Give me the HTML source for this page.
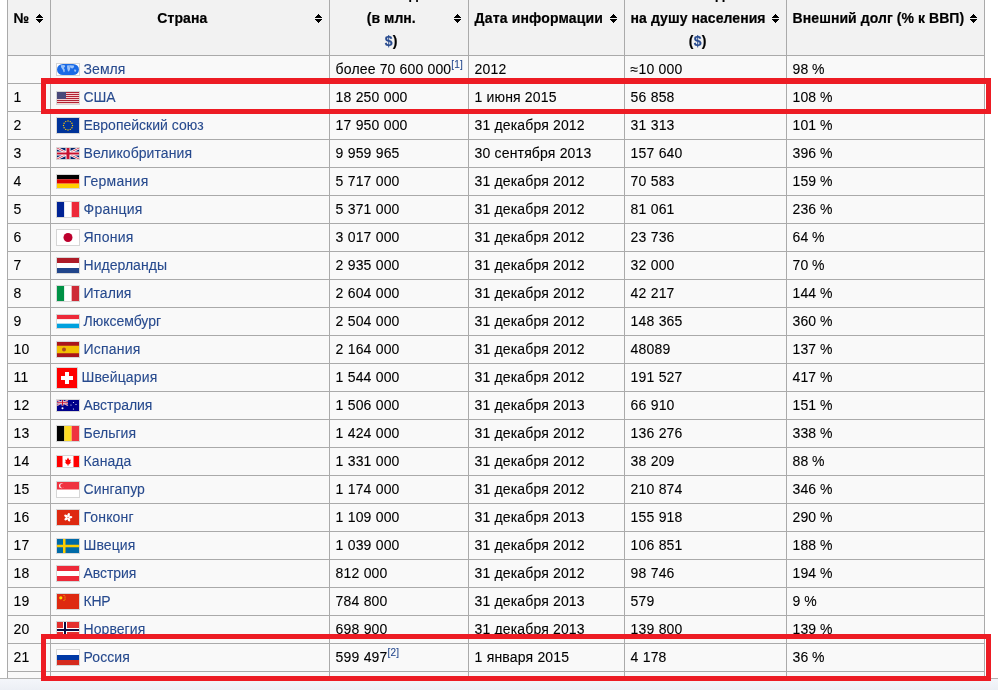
<!DOCTYPE html>
<html><head><meta charset="utf-8">
<style>
html,body{margin:0;padding:0;}
body{width:998px;height:690px;overflow:hidden;position:relative;background:#fff;font-family:"Liberation Sans",sans-serif;font-size:14px;color:#000;}
.wrap{position:absolute;left:0;top:0;width:998px;height:690px;will-change:transform;}
.a{position:absolute;}
.hd{position:absolute;left:7px;top:0;width:978px;height:55px;background:#f2f2f2;}
.bd{position:absolute;left:7px;top:56px;width:978px;height:622px;background:#f9f9f9;}
.vl{position:absolute;top:0;width:1px;height:678px;background:#aaa;}
.hl{position:absolute;left:7px;width:978px;height:1px;background:#aaa;}
.t{position:absolute;height:28px;line-height:28px;white-space:nowrap;-webkit-text-stroke:0.1px currentColor;}
.th{position:absolute;font-weight:bold;white-space:nowrap;line-height:22.4px;text-align:center;-webkit-text-stroke:0.2px currentColor;}
.lk{color:#274a8e;}
sup{font-size:10px;line-height:1;vertical-align:super;position:relative;top:-0.5px;}
.fl{position:absolute;border:1px solid #d6d6d6;}
.rb{position:absolute;border:5px solid #ed1c24;box-sizing:border-box;}
.sa{position:absolute;}
</style></head><body>

<div class="wrap">
<div class="hd"></div><div class="bd"></div>
<div class="vl" style="left:7px"></div>
<div class="vl" style="left:50px"></div>
<div class="vl" style="left:329px"></div>
<div class="vl" style="left:468px"></div>
<div class="vl" style="left:624px"></div>
<div class="vl" style="left:786px"></div>
<div class="vl" style="left:984px"></div>
<div class="hl" style="top:55px"></div>
<div class="hl" style="top:83px"></div>
<div class="hl" style="top:111px"></div>
<div class="hl" style="top:139px"></div>
<div class="hl" style="top:167px"></div>
<div class="hl" style="top:195px"></div>
<div class="hl" style="top:223px"></div>
<div class="hl" style="top:251px"></div>
<div class="hl" style="top:279px"></div>
<div class="hl" style="top:307px"></div>
<div class="hl" style="top:335px"></div>
<div class="hl" style="top:363px"></div>
<div class="hl" style="top:391px"></div>
<div class="hl" style="top:419px"></div>
<div class="hl" style="top:447px"></div>
<div class="hl" style="top:475px"></div>
<div class="hl" style="top:503px"></div>
<div class="hl" style="top:531px"></div>
<div class="hl" style="top:559px"></div>
<div class="hl" style="top:587px"></div>
<div class="hl" style="top:615px"></div>
<div class="hl" style="top:643px"></div>
<div class="hl" style="top:671px"></div>
<div class="a" style="left:0;top:678px;width:998px;height:1px;background:#b4b4b4"></div>
<div class="a" style="left:0;top:679px;width:998px;height:11px;background:linear-gradient(#f4f6fa,#eceff5)"></div>
<div class="th" style="left:13.6px;width:15.4px;top:6.5px;letter-spacing:0.394px;">№</div><div class="sa" style="left:35px;top:13px"><svg width="9" height="10" viewBox="0 0 9 10" style="display:block" shape-rendering="crispEdges"><path d="M4 1h1v1h-1zM3 2h3v1h-3zM2 3h5v1h-5zM1 4h7v1h-7zM1 6h7v1h-7zM2 7h5v1h-5zM3 8h3v1h-3zM4 9h1v1h-1z" fill="#000"/></svg></div>
<div class="th" style="left:56.6px;width:251.4px;top:6.5px;letter-spacing:0.076px;">Страна</div><div class="sa" style="left:314px;top:13px"><svg width="9" height="10" viewBox="0 0 9 10" style="display:block" shape-rendering="crispEdges"><path d="M4 1h1v1h-1zM3 2h3v1h-3zM2 3h5v1h-5zM1 4h7v1h-7zM1 6h7v1h-7zM2 7h5v1h-5zM3 8h3v1h-3zM4 9h1v1h-1z" fill="#000"/></svg></div>
<div class="th" style="left:335.6px;width:111.39999999999998px;top:-17.5px;letter-spacing:0.105px;">Внешний долг</div><div class="th" style="left:335.6px;width:111.39999999999998px;top:6.5px;letter-spacing:0.035px;">(в млн.</div><div class="th" style="left:335.6px;width:111.39999999999998px;top:29.5px;letter-spacing:0.276px;"><span class="lk">$</span>)</div><div class="sa" style="left:453px;top:13px"><svg width="9" height="10" viewBox="0 0 9 10" style="display:block" shape-rendering="crispEdges"><path d="M4 1h1v1h-1zM3 2h3v1h-3zM2 3h5v1h-5zM1 4h7v1h-7zM1 6h7v1h-7zM2 7h5v1h-5zM3 8h3v1h-3zM4 9h1v1h-1z" fill="#000"/></svg></div>
<div class="th" style="left:474.6px;width:128.39999999999998px;top:6.5px;letter-spacing:0.155px;">Дата информации</div><div class="sa" style="left:609px;top:13px"><svg width="9" height="10" viewBox="0 0 9 10" style="display:block" shape-rendering="crispEdges"><path d="M4 1h1v1h-1zM3 2h3v1h-3zM2 3h5v1h-5zM1 4h7v1h-7zM1 6h7v1h-7zM2 7h5v1h-5zM3 8h3v1h-3zM4 9h1v1h-1z" fill="#000"/></svg></div>
<div class="th" style="left:630.6px;width:134.39999999999998px;top:-17.5px;letter-spacing:0.105px;">Внешний долг</div><div class="th" style="left:630.6px;width:134.39999999999998px;top:6.5px;letter-spacing:0.066px;">на душу населения</div><div class="th" style="left:630.6px;width:134.39999999999998px;top:29.5px;letter-spacing:0.297px;">(<span class="lk">$</span>)</div><div class="sa" style="left:771px;top:13px"><svg width="9" height="10" viewBox="0 0 9 10" style="display:block" shape-rendering="crispEdges"><path d="M4 1h1v1h-1zM3 2h3v1h-3zM2 3h5v1h-5zM1 4h7v1h-7zM1 6h7v1h-7zM2 7h5v1h-5zM3 8h3v1h-3zM4 9h1v1h-1z" fill="#000"/></svg></div>
<div class="th" style="left:792.6px;width:170.39999999999998px;top:6.5px;letter-spacing:0.069px;">Внешний долг (% к ВВП)</div><div class="sa" style="left:969px;top:13px"><svg width="9" height="10" viewBox="0 0 9 10" style="display:block" shape-rendering="crispEdges"><path d="M4 1h1v1h-1zM3 2h3v1h-3zM2 3h5v1h-5zM1 4h7v1h-7zM1 6h7v1h-7zM2 7h5v1h-5zM3 8h3v1h-3zM4 9h1v1h-1z" fill="#000"/></svg></div>
<div class="fl" style="left:56px;top:63px;width:22px;height:11px"><svg width="22" height="11" viewBox="0 0 22 11" style="display:block"><rect width="22" height="11" fill="#fff"/><rect x="0" y="0" width="22" height="11" rx="6" ry="5.5" fill="#1a6ae6"/><path d="M3.8 1.2 L7.5 1 L8.2 2.5 L6.8 4 L7.8 5.5 L7.6 8 L6.6 8.2 L5.8 5.8 L4.2 3.5Z M10 1.5 L12.5 1.3 L12.8 3 L13.2 5 L12 7.6 L11 7.2 L10.2 4.5Z M12.6 1.2 L16.8 1.4 L17.2 3 L15.5 4.6 L13.5 4Z M17 5.6 L19.2 5.8 L19 7.8 L17.4 7.6Z" fill="#9cc3f7"/></svg></div>
<div class="t lk" style="left:83.5px;top:55px;letter-spacing:0.077px;">Земля</div>
<div class="t" style="left:335.6px;top:55px;letter-spacing:0.156px;">более 70 600 000<sup class="lk">[1]</sup></div>
<div class="t" style="left:474.6px;top:55px;letter-spacing:0.214px;">2012</div>
<div class="t" style="left:630.6px;top:55px;letter-spacing:0.214px;">≈10 000</div>
<div class="t" style="left:792.6px;top:55px;letter-spacing:0.022px;">98 %</div>
<div class="t" style="left:13.6px;top:83px;letter-spacing:0.214px;">1</div>
<div class="fl" style="left:56px;top:91px;width:22px;height:12px"><svg width="22" height="12" viewBox="0 0 22 12" style="display:block"><rect y="0" width="22" height="1" fill="#b22234"/><rect y="1" width="22" height="1" fill="#f5d0d0"/><rect y="2" width="22" height="1" fill="#b22234"/><rect y="3" width="22" height="1" fill="#f5d0d0"/><rect y="4" width="22" height="1" fill="#b22234"/><rect y="5" width="22" height="1" fill="#f5d0d0"/><rect y="6" width="22" height="1" fill="#b22234"/><rect y="7" width="22" height="1" fill="#f5d0d0"/><rect y="8" width="22" height="1" fill="#b22234"/><rect y="9" width="22" height="1" fill="#f5d0d0"/><rect y="10" width="22" height="1" fill="#b22234"/><rect y="11" width="22" height="1" fill="#f5d0d0"/><rect width="9" height="7" fill="#4a4a7a"/></svg></div>
<div class="t lk" style="left:83.5px;top:83px;letter-spacing:-0.093px;">США</div>
<div class="t" style="left:335.6px;top:83px;letter-spacing:0.193px;">18 250 000</div>
<div class="t" style="left:474.6px;top:83px;letter-spacing:0.151px;">1 июня 2015</div>
<div class="t" style="left:630.6px;top:83px;letter-spacing:0.197px;">56 858</div>
<div class="t" style="left:792.6px;top:83px;letter-spacing:0.061px;">108 %</div>
<div class="t" style="left:13.6px;top:111px;letter-spacing:0.214px;">2</div>
<div class="fl" style="left:56px;top:117px;width:22px;height:15px"><svg width="22" height="15" viewBox="0 0 22 15" style="display:block"><rect width="22" height="15" fill="#003399"/><circle cx="15.50" cy="7.50" r="0.7" fill="#ffcc00"/><circle cx="14.90" cy="9.75" r="0.7" fill="#ffcc00"/><circle cx="13.25" cy="11.40" r="0.7" fill="#ffcc00"/><circle cx="11.00" cy="12.00" r="0.7" fill="#ffcc00"/><circle cx="8.75" cy="11.40" r="0.7" fill="#ffcc00"/><circle cx="7.10" cy="9.75" r="0.7" fill="#ffcc00"/><circle cx="6.50" cy="7.50" r="0.7" fill="#ffcc00"/><circle cx="7.10" cy="5.25" r="0.7" fill="#ffcc00"/><circle cx="8.75" cy="3.60" r="0.7" fill="#ffcc00"/><circle cx="11.00" cy="3.00" r="0.7" fill="#ffcc00"/><circle cx="13.25" cy="3.60" r="0.7" fill="#ffcc00"/><circle cx="14.90" cy="5.25" r="0.7" fill="#ffcc00"/></svg></div>
<div class="t lk" style="left:83.5px;top:111px;letter-spacing:0.007px;">Европейский союз</div>
<div class="t" style="left:335.6px;top:111px;letter-spacing:0.193px;">17 950 000</div>
<div class="t" style="left:474.6px;top:111px;letter-spacing:0.150px;">31 декабря 2012</div>
<div class="t" style="left:630.6px;top:111px;letter-spacing:0.197px;">31 313</div>
<div class="t" style="left:792.6px;top:111px;letter-spacing:0.061px;">101 %</div>
<div class="t" style="left:13.6px;top:139px;letter-spacing:0.214px;">3</div>
<div class="fl" style="left:56px;top:147px;width:22px;height:11px"><svg width="22" height="11" viewBox="0 0 22 11" style="display:block"><rect width="22" height="11" fill="#012169"/><path d="M0 0L22 11M22 0L0 11" stroke="#fff" stroke-width="2.5"/><path d="M0 0L22 11M22 0L0 11" stroke="#c8102e" stroke-width="0.8"/><rect x="8.5" width="5" height="11" fill="#fff"/><rect y="3.5" width="22" height="4" fill="#fff"/><rect x="9.5" width="3" height="11" fill="#c8102e"/><rect y="4.5" width="22" height="2" fill="#c8102e"/></svg></div>
<div class="t lk" style="left:83.5px;top:139px;letter-spacing:0.073px;">Великобритания</div>
<div class="t" style="left:335.6px;top:139px;letter-spacing:0.191px;">9 959 965</div>
<div class="t" style="left:474.6px;top:139px;letter-spacing:0.163px;">30 сентября 2013</div>
<div class="t" style="left:630.6px;top:139px;letter-spacing:0.199px;">157 640</div>
<div class="t" style="left:792.6px;top:139px;letter-spacing:0.061px;">396 %</div>
<div class="t" style="left:13.6px;top:167px;letter-spacing:0.214px;">4</div>
<div class="fl" style="left:56px;top:174px;width:22px;height:13px"><svg width="22" height="13" viewBox="0 0 22 13" style="display:block"><rect width="22" height="4.33" fill="#000"/><rect y="4.33" width="22" height="4.34" fill="#dd0000"/><rect y="8.67" width="22" height="4.33" fill="#ffce00"/></svg></div>
<div class="t lk" style="left:83.5px;top:167px;letter-spacing:0.288px;">Германия</div>
<div class="t" style="left:335.6px;top:167px;letter-spacing:0.191px;">5 717 000</div>
<div class="t" style="left:474.6px;top:167px;letter-spacing:0.150px;">31 декабря 2012</div>
<div class="t" style="left:630.6px;top:167px;letter-spacing:0.197px;">70 583</div>
<div class="t" style="left:792.6px;top:167px;letter-spacing:0.061px;">159 %</div>
<div class="t" style="left:13.6px;top:195px;letter-spacing:0.214px;">5</div>
<div class="fl" style="left:56px;top:201px;width:22px;height:15px"><svg width="22" height="15" viewBox="0 0 22 15" style="display:block"><rect width="7.33" height="15" fill="#002395"/><rect x="7.33" width="7.34" height="15" fill="#fff"/><rect x="14.67" width="7.33" height="15" fill="#ed2939"/></svg></div>
<div class="t lk" style="left:83.5px;top:195px;letter-spacing:0.233px;">Франция</div>
<div class="t" style="left:335.6px;top:195px;letter-spacing:0.191px;">5 371 000</div>
<div class="t" style="left:474.6px;top:195px;letter-spacing:0.150px;">31 декабря 2012</div>
<div class="t" style="left:630.6px;top:195px;letter-spacing:0.197px;">81 061</div>
<div class="t" style="left:792.6px;top:195px;letter-spacing:0.061px;">236 %</div>
<div class="t" style="left:13.6px;top:223px;letter-spacing:0.214px;">6</div>
<div class="fl" style="left:56px;top:229px;width:22px;height:15px"><svg width="22" height="15" viewBox="0 0 22 15" style="display:block"><rect width="22" height="15" fill="#fff"/><circle cx="11" cy="7.5" r="4.5" fill="#bc002d"/></svg></div>
<div class="t lk" style="left:83.5px;top:223px;letter-spacing:0.232px;">Япония</div>
<div class="t" style="left:335.6px;top:223px;letter-spacing:0.191px;">3 017 000</div>
<div class="t" style="left:474.6px;top:223px;letter-spacing:0.150px;">31 декабря 2012</div>
<div class="t" style="left:630.6px;top:223px;letter-spacing:0.197px;">23 736</div>
<div class="t" style="left:792.6px;top:223px;letter-spacing:0.022px;">64 %</div>
<div class="t" style="left:13.6px;top:251px;letter-spacing:0.214px;">7</div>
<div class="fl" style="left:56px;top:257px;width:22px;height:15px"><svg width="22" height="15" viewBox="0 0 22 15" style="display:block"><rect width="22" height="5" fill="#ae1c28"/><rect y="5" width="22" height="5" fill="#fff"/><rect y="10" width="22" height="5" fill="#21468b"/></svg></div>
<div class="t lk" style="left:83.5px;top:251px;letter-spacing:0.041px;">Нидерланды</div>
<div class="t" style="left:335.6px;top:251px;letter-spacing:0.191px;">2 935 000</div>
<div class="t" style="left:474.6px;top:251px;letter-spacing:0.150px;">31 декабря 2012</div>
<div class="t" style="left:630.6px;top:251px;letter-spacing:0.197px;">32 000</div>
<div class="t" style="left:792.6px;top:251px;letter-spacing:0.022px;">70 %</div>
<div class="t" style="left:13.6px;top:279px;letter-spacing:0.214px;">8</div>
<div class="fl" style="left:56px;top:285px;width:22px;height:15px"><svg width="22" height="15" viewBox="0 0 22 15" style="display:block"><rect width="7.33" height="15" fill="#009246"/><rect x="7.33" width="7.34" height="15" fill="#fff"/><rect x="14.67" width="7.33" height="15" fill="#ce2b37"/></svg></div>
<div class="t lk" style="left:83.5px;top:279px;letter-spacing:0.028px;">Италия</div>
<div class="t" style="left:335.6px;top:279px;letter-spacing:0.191px;">2 604 000</div>
<div class="t" style="left:474.6px;top:279px;letter-spacing:0.150px;">31 декабря 2012</div>
<div class="t" style="left:630.6px;top:279px;letter-spacing:0.197px;">42 217</div>
<div class="t" style="left:792.6px;top:279px;letter-spacing:0.061px;">144 %</div>
<div class="t" style="left:13.6px;top:307px;letter-spacing:0.214px;">9</div>
<div class="fl" style="left:56px;top:314px;width:22px;height:13px"><svg width="22" height="13" viewBox="0 0 22 13" style="display:block"><rect width="22" height="4.33" fill="#ed2939"/><rect y="4.33" width="22" height="4.34" fill="#fff"/><rect y="8.67" width="22" height="4.33" fill="#00a1de"/></svg></div>
<div class="t lk" style="left:83.5px;top:307px;letter-spacing:-0.013px;">Люксембург</div>
<div class="t" style="left:335.6px;top:307px;letter-spacing:0.191px;">2 504 000</div>
<div class="t" style="left:474.6px;top:307px;letter-spacing:0.150px;">31 декабря 2012</div>
<div class="t" style="left:630.6px;top:307px;letter-spacing:0.199px;">148 365</div>
<div class="t" style="left:792.6px;top:307px;letter-spacing:0.061px;">360 %</div>
<div class="t" style="left:13.6px;top:335px;letter-spacing:0.214px;">10</div>
<div class="fl" style="left:56px;top:341px;width:22px;height:15px"><svg width="22" height="15" viewBox="0 0 22 15" style="display:block"><rect width="22" height="15" fill="#aa151b"/><rect y="3.75" width="22" height="7.5" fill="#f1bf00"/><circle cx="7" cy="7.5" r="2" fill="#ad4a22"/></svg></div>
<div class="t lk" style="left:83.5px;top:335px;letter-spacing:0.205px;">Испания</div>
<div class="t" style="left:335.6px;top:335px;letter-spacing:0.191px;">2 164 000</div>
<div class="t" style="left:474.6px;top:335px;letter-spacing:0.150px;">31 декабря 2012</div>
<div class="t" style="left:630.6px;top:335px;letter-spacing:0.214px;">48089</div>
<div class="t" style="left:792.6px;top:335px;letter-spacing:0.061px;">137 %</div>
<div class="t" style="left:13.6px;top:363px;letter-spacing:0.214px;">11</div>
<div class="fl" style="left:56px;top:367px;width:20px;height:20px"><svg width="20" height="20" viewBox="0 0 20 20" style="display:block"><rect width="20" height="20" fill="#ff0000"/><rect x="8" y="4" width="4" height="12" fill="#fff"/><rect x="4" y="8" width="12" height="4" fill="#fff"/></svg></div>
<div class="t lk" style="left:81.5px;top:363px;letter-spacing:0.126px;">Швейцария</div>
<div class="t" style="left:335.6px;top:363px;letter-spacing:0.191px;">1 544 000</div>
<div class="t" style="left:474.6px;top:363px;letter-spacing:0.150px;">31 декабря 2012</div>
<div class="t" style="left:630.6px;top:363px;letter-spacing:0.199px;">191 527</div>
<div class="t" style="left:792.6px;top:363px;letter-spacing:0.061px;">417 %</div>
<div class="t" style="left:13.6px;top:391px;letter-spacing:0.214px;">12</div>
<div class="fl" style="left:56px;top:399px;width:22px;height:11px"><svg width="22" height="11" viewBox="0 0 22 11" style="display:block"><rect width="22" height="11" fill="#00008b"/><path d="M0 0L11 5.5M11 0L0 5.5" stroke="#fff" stroke-width="1.2"/><path d="M0 0L11 5.5M11 0L0 5.5" stroke="#c8102e" stroke-width="0.5"/><rect x="4.5" width="2" height="5.5" fill="#fff"/><rect y="1.75" width="11" height="2" fill="#fff"/><rect x="5" width="1" height="5.5" fill="#c8102e"/><rect y="2.25" width="11" height="1" fill="#c8102e"/><circle cx="5.5" cy="8.3" r="1" fill="#fff"/><circle cx="16.5" cy="2.5" r="0.6" fill="#fff"/><circle cx="14" cy="5" r="0.6" fill="#fff"/><circle cx="19" cy="4.5" r="0.6" fill="#fff"/><circle cx="16.5" cy="9" r="0.6" fill="#fff"/></svg></div>
<div class="t lk" style="left:83.5px;top:391px;letter-spacing:-0.037px;">Австралия</div>
<div class="t" style="left:335.6px;top:391px;letter-spacing:0.191px;">1 506 000</div>
<div class="t" style="left:474.6px;top:391px;letter-spacing:0.150px;">31 декабря 2013</div>
<div class="t" style="left:630.6px;top:391px;letter-spacing:0.197px;">66 910</div>
<div class="t" style="left:792.6px;top:391px;letter-spacing:0.061px;">151 %</div>
<div class="t" style="left:13.6px;top:419px;letter-spacing:0.214px;">13</div>
<div class="fl" style="left:56px;top:425px;width:22px;height:15px"><svg width="22" height="15" viewBox="0 0 22 15" style="display:block"><rect width="7.33" height="15" fill="#000"/><rect x="7.33" width="7.34" height="15" fill="#fdda24"/><rect x="14.67" width="7.33" height="15" fill="#ef3340"/></svg></div>
<div class="t lk" style="left:83.5px;top:419px;letter-spacing:0.008px;">Бельгия</div>
<div class="t" style="left:335.6px;top:419px;letter-spacing:0.191px;">1 424 000</div>
<div class="t" style="left:474.6px;top:419px;letter-spacing:0.150px;">31 декабря 2012</div>
<div class="t" style="left:630.6px;top:419px;letter-spacing:0.199px;">136 276</div>
<div class="t" style="left:792.6px;top:419px;letter-spacing:0.061px;">338 %</div>
<div class="t" style="left:13.6px;top:447px;letter-spacing:0.214px;">14</div>
<div class="fl" style="left:56px;top:455px;width:22px;height:11px"><svg width="22" height="11" viewBox="0 0 22 11" style="display:block"><rect width="22" height="11" fill="#fff"/><rect width="5.5" height="11" fill="#ff0000"/><rect x="16.5" width="5.5" height="11" fill="#ff0000"/><path d="M11 1.5 L12.3 4 L13.8 3.5 L13.2 6.5 L14.5 6 L12 8.5 L11.3 8.5 L11.3 10 L10.7 10 L10.7 8.5 L10 8.5 L7.5 6 L8.8 6.5 L8.2 3.5 L9.7 4Z" fill="#ff0000"/></svg></div>
<div class="t lk" style="left:83.5px;top:447px;letter-spacing:0.098px;">Канада</div>
<div class="t" style="left:335.6px;top:447px;letter-spacing:0.191px;">1 331 000</div>
<div class="t" style="left:474.6px;top:447px;letter-spacing:0.150px;">31 декабря 2012</div>
<div class="t" style="left:630.6px;top:447px;letter-spacing:0.197px;">38 209</div>
<div class="t" style="left:792.6px;top:447px;letter-spacing:0.022px;">88 %</div>
<div class="t" style="left:13.6px;top:475px;letter-spacing:0.214px;">15</div>
<div class="fl" style="left:56px;top:481px;width:22px;height:15px"><svg width="22" height="15" viewBox="0 0 22 15" style="display:block"><rect width="22" height="15" fill="#fff"/><rect width="22" height="7.5" fill="#ef3340"/><circle cx="4.5" cy="3.75" r="2.5" fill="#fff"/><circle cx="5.5" cy="3.75" r="2.3" fill="#ef3340"/></svg></div>
<div class="t lk" style="left:83.5px;top:475px;letter-spacing:0.135px;">Сингапур</div>
<div class="t" style="left:335.6px;top:475px;letter-spacing:0.191px;">1 174 000</div>
<div class="t" style="left:474.6px;top:475px;letter-spacing:0.150px;">31 декабря 2012</div>
<div class="t" style="left:630.6px;top:475px;letter-spacing:0.199px;">210 874</div>
<div class="t" style="left:792.6px;top:475px;letter-spacing:0.061px;">346 %</div>
<div class="t" style="left:13.6px;top:503px;letter-spacing:0.214px;">16</div>
<div class="fl" style="left:56px;top:509px;width:22px;height:15px"><svg width="22" height="15" viewBox="0 0 22 15" style="display:block"><rect width="22" height="15" fill="#de2910"/><g transform="translate(11 7.3)"><ellipse cx="0" cy="-2.2" rx="1.3" ry="2.2" fill="#fff" transform="rotate(15)"/><ellipse cx="0" cy="-2.2" rx="1.3" ry="2.2" fill="#fff" transform="rotate(87)"/><ellipse cx="0" cy="-2.2" rx="1.3" ry="2.2" fill="#fff" transform="rotate(159)"/><ellipse cx="0" cy="-2.2" rx="1.3" ry="2.2" fill="#fff" transform="rotate(231)"/><ellipse cx="0" cy="-2.2" rx="1.3" ry="2.2" fill="#fff" transform="rotate(303)"/><circle r="0.6" fill="#de2910"/></g></svg></div>
<div class="t lk" style="left:83.5px;top:503px;letter-spacing:0.165px;">Гонконг</div>
<div class="t" style="left:335.6px;top:503px;letter-spacing:0.191px;">1 109 000</div>
<div class="t" style="left:474.6px;top:503px;letter-spacing:0.150px;">31 декабря 2013</div>
<div class="t" style="left:630.6px;top:503px;letter-spacing:0.199px;">155 918</div>
<div class="t" style="left:792.6px;top:503px;letter-spacing:0.061px;">290 %</div>
<div class="t" style="left:13.6px;top:531px;letter-spacing:0.214px;">17</div>
<div class="fl" style="left:56px;top:538px;width:22px;height:14px"><svg width="22" height="14" viewBox="0 0 22 14" style="display:block"><rect width="22" height="14" fill="#006aa7"/><rect x="6" width="2.5" height="14" fill="#fecc00"/><rect y="5.75" width="22" height="2.5" fill="#fecc00"/></svg></div>
<div class="t lk" style="left:83.5px;top:531px;letter-spacing:0.088px;">Швеция</div>
<div class="t" style="left:335.6px;top:531px;letter-spacing:0.191px;">1 039 000</div>
<div class="t" style="left:474.6px;top:531px;letter-spacing:0.150px;">31 декабря 2012</div>
<div class="t" style="left:630.6px;top:531px;letter-spacing:0.199px;">106 851</div>
<div class="t" style="left:792.6px;top:531px;letter-spacing:0.061px;">188 %</div>
<div class="t" style="left:13.6px;top:559px;letter-spacing:0.214px;">18</div>
<div class="fl" style="left:56px;top:565px;width:22px;height:15px"><svg width="22" height="15" viewBox="0 0 22 15" style="display:block"><rect width="22" height="15" fill="#ed2939"/><rect y="5" width="22" height="5" fill="#fff"/></svg></div>
<div class="t lk" style="left:83.5px;top:559px;letter-spacing:-0.054px;">Австрия</div>
<div class="t" style="left:335.6px;top:559px;letter-spacing:0.199px;">812 000</div>
<div class="t" style="left:474.6px;top:559px;letter-spacing:0.150px;">31 декабря 2012</div>
<div class="t" style="left:630.6px;top:559px;letter-spacing:0.197px;">98 746</div>
<div class="t" style="left:792.6px;top:559px;letter-spacing:0.061px;">194 %</div>
<div class="t" style="left:13.6px;top:587px;letter-spacing:0.214px;">19</div>
<div class="fl" style="left:56px;top:593px;width:22px;height:15px"><svg width="22" height="15" viewBox="0 0 22 15" style="display:block"><rect width="22" height="15" fill="#de2910"/><circle cx="3.8" cy="3.8" r="1.6" fill="#ffde00"/><circle cx="7" cy="1.6" r="0.5" fill="#ffde00"/><circle cx="8" cy="3" r="0.5" fill="#ffde00"/><circle cx="8" cy="5" r="0.5" fill="#ffde00"/><circle cx="7" cy="6.3" r="0.5" fill="#ffde00"/></svg></div>
<div class="t lk" style="left:83.5px;top:587px;letter-spacing:-0.201px;">КНР</div>
<div class="t" style="left:335.6px;top:587px;letter-spacing:0.199px;">784 800</div>
<div class="t" style="left:474.6px;top:587px;letter-spacing:0.150px;">31 декабря 2013</div>
<div class="t" style="left:630.6px;top:587px;letter-spacing:0.214px;">579</div>
<div class="t" style="left:792.6px;top:587px;letter-spacing:-0.041px;">9 %</div>
<div class="t" style="left:13.6px;top:615px;letter-spacing:0.214px;">20</div>
<div class="fl" style="left:56px;top:621px;width:22px;height:16px"><svg width="22" height="16" viewBox="0 0 22 16" style="display:block"><rect width="22" height="16" fill="#e4302f"/><rect x="6" width="4" height="16" fill="#fff"/><rect y="6" width="22" height="4" fill="#fff"/><rect x="7" width="2" height="16" fill="#0c0c40"/><rect y="7" width="22" height="2" fill="#0c0c40"/></svg></div>
<div class="t lk" style="left:83.5px;top:615px;letter-spacing:0.073px;">Норвегия</div>
<div class="t" style="left:335.6px;top:615px;letter-spacing:0.199px;">698 900</div>
<div class="t" style="left:474.6px;top:615px;letter-spacing:0.150px;">31 декабря 2013</div>
<div class="t" style="left:630.6px;top:615px;letter-spacing:0.199px;">139 800</div>
<div class="t" style="left:792.6px;top:615px;letter-spacing:0.061px;">139 %</div>
<div class="t" style="left:13.6px;top:643px;letter-spacing:0.214px;">21</div>
<div class="fl" style="left:56px;top:649px;width:22px;height:15px"><svg width="22" height="15" viewBox="0 0 22 15" style="display:block"><rect width="22" height="5" fill="#fff"/><rect y="5" width="22" height="5" fill="#0039a6"/><rect y="10" width="22" height="5" fill="#d52b1e"/></svg></div>
<div class="t lk" style="left:83.5px;top:643px;letter-spacing:0.079px;">Россия</div>
<div class="t" style="left:335.6px;top:643px;letter-spacing:0.199px;">599 497<sup class="lk">[2]</sup></div>
<div class="t" style="left:474.6px;top:643px;letter-spacing:0.184px;">1 января 2015</div>
<div class="t" style="left:630.6px;top:643px;letter-spacing:0.193px;">4 178</div>
<div class="t" style="left:792.6px;top:643px;letter-spacing:0.022px;">36 %</div>
<div class="rb" style="left:41px;top:78px;width:950px;height:36px;border-top-width:6px"></div>
<div class="rb" style="left:41px;top:634px;width:950px;height:47px"></div>
</div></body></html>
